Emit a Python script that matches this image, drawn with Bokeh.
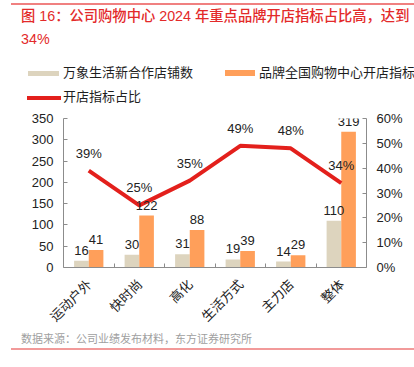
import math
from bokeh.plotting import figure
from bokeh.models import (ColumnDataSource, Range1d, LinearAxis, FixedTicker, NumeralTickFormatter,
                          LabelSet, Div)
from bokeh.layouts import column
from bokeh.core.properties import value
from bokeh.transform import dodge
from bokeh.embed import file_html
from bokeh.resources import INLINE

categories = ["运动户外", "快时尚", "高化", "生活方式", "主力店", "整体"]
new_stores = [16, 30, 31, 19, 14, 110]
brand_target = [41, 122, 88, 39, 29, 319]
ratio = [0.39, 0.25, 0.35, 0.49, 0.48, 0.34]
left_ticks = [0, 50, 100, 150, 200, 250, 300, 350]
right_ticks = [0, 0.1, 0.2, 0.3, 0.4, 0.5, 0.6]

title_line1 = "图 16：公司购物中心 2024 年重点品牌开店指标占比高，达到"
title_line2 = "34%"
source_text = "数据来源：公司业绩发布材料，东方证券研究所"
series_names = ["万象生活新合作店铺数", "品牌全国购物中心开店指标", "开店指标占比"]

BEIGE = "#DDD4BE"
ORANGE = "#FF9F5A"
RED = "#E3201C"
TITLE_RED = "#E32A2A"
NUM_FONT = "Liberation Sans, Noto Sans CJK SC"
CJK_FONT = "Noto Sans CJK SC"
HTML_FONT = "'Liberation Sans', 'Noto Sans CJK SC', sans-serif"

xs = [i + 0.5 for i in range(len(categories))]
src = ColumnDataSource(dict(
    x=xs, cat=categories, a=new_stores, b=brand_target, r=ratio,
    a_lbl=[str(v) for v in new_stores],
    b_lbl=[str(v) for v in brand_target],
    r_lbl=[f"{round(v * 100)}%" for v in ratio],
))

# ---------- header (title + legend) ----------
def swatch(left, top, w, h, color):
    return (f'<div style="position:absolute;left:{left}px;top:{top}px;width:{w}px;'
            f'height:{h}px;background:{color};"></div>')

def text(left, top, s, size, color, weight=400, lh=18):
    return (f'<div style="position:absolute;left:{left}px;top:{top}px;white-space:nowrap;'
            f'font-family:{HTML_FONT};font-size:{size};line-height:{lh}px;color:{color};'
            f'font-weight:{weight};">{s}</div>')

header_html = (
    '<div style="position:relative;width:414px;height:108px;overflow:hidden;">'
    + swatch(11, 3, 403, 1.5, "#F08080")
    + text(21, 7, title_line1, "14.3px", TITLE_RED, 500)
    + text(21, 30, title_line2, "14.3px", TITLE_RED, 500)
    + swatch(28, 71, 31, 5, BEIGE)
    + text(63, 64, series_names[0], "13px", "#1e1e1e")
    + swatch(225, 70, 30, 6, ORANGE)
    + text(259, 64, series_names[1], "13px", "#1e1e1e")
    + swatch(27, 96, 34, 4, RED)
    + text(63, 88, series_names[2], "13px", "#1e1e1e")
    + '</div>'
)
header = Div(text=header_html, width=414, height=108, margin=0)

# ---------- chart ----------
p = figure(width=414, height=226, output_backend="svg", toolbar_location=None, title=None,
           x_range=Range1d(0, len(categories)), y_range=Range1d(left_ticks[0], left_ticks[-1]),
           min_border_left=63, min_border_right=48, min_border_top=10, min_border_bottom=62,
           margin=0)
p.extra_y_ranges = {"pct": Range1d(right_ticks[0], right_ticks[-1])}
p.grid.visible = False
p.outline_line_color = None
p.background_fill_color = "white"
p.border_fill_color = "white"

AX = "#8c8c8c"
ya = p.yaxis[0]
ya.ticker = FixedTicker(ticks=left_ticks)
ra = LinearAxis(y_range_name="pct", ticker=FixedTicker(ticks=right_ticks),
                formatter=NumeralTickFormatter(format="0%"))
p.add_layout(ra, "right")
for ax in (ya, ra):
    ax.axis_line_color = AX
    ax.major_tick_line_color = AX
    ax.major_tick_in = 4
    ax.major_tick_out = 0
    ax.minor_tick_line_color = None
    ax.major_label_standoff = 10
    ax.major_label_text_font_size = "13px"
    ax.major_label_text_font = NUM_FONT
    ax.major_label_text_color = "#222222"

xa = p.xaxis[0]
xa.ticker = FixedTicker(ticks=xs, minor_ticks=list(range(1, len(categories))))
xa.major_label_overrides = {x: c for x, c in zip(xs, categories)}
xa.axis_line_color = AX
xa.major_tick_line_color = None
xa.minor_tick_line_color = AX
xa.minor_tick_in = 4
xa.minor_tick_out = 0
xa.major_label_orientation = math.pi / 4
xa.major_label_standoff = 8
xa.major_label_text_font_size = "13px"
xa.major_label_text_font = CJK_FONT
xa.major_label_text_color = "#222222"

rb1 = p.vbar(x=dodge("x", -0.145), top="a", width=0.29, source=src,
             fill_color=BEIGE, line_color=None)
rb2 = p.vbar(x=dodge("x", 0.145), top="b", width=0.29, source=src,
             fill_color=ORANGE, line_color=None)
rl = p.line(x="x", y="r", source=src, y_range_name="pct", line_color=RED, line_width=4)

for xcol, ycol, tcol, off, rng in [(dodge("x", -0.145), "a", "a_lbl", 6, "default"),
                                   (dodge("x", 0.145), "b", "b_lbl", 6, "default"),
                                   ("x", "r", "r_lbl", 10, "pct")]:
    p.add_layout(LabelSet(x=xcol, y=ycol, text=tcol, source=src, y_range_name=rng,
                          text_align="center", text_baseline="bottom", y_offset=off,
                          text_font_size="13px", text_font=value(NUM_FONT),
                          text_color="#222222"))

# ---------- footer (source + rule) ----------
footer_html = (
    '<div style="position:relative;width:414px;height:17px;">'
    + text(21, 0, source_text, "11px", "#A0A0A0", lh=10)
    + swatch(11, 14, 403, 2, "#F29A9A")
    + '</div>'
)
footer = Div(text=footer_html, width=414, height=17, margin=0)

layout = column(header, p, footer, spacing=0)
open("out.html", "w").write(file_html(layout, INLINE))
